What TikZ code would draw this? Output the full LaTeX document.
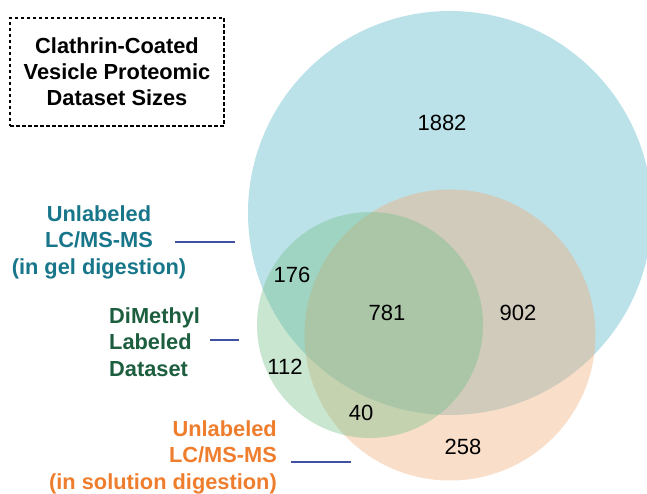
\documentclass[tikz,border=0pt]{standalone}
\usepackage{fontspec}
\setmainfont{Liberation Sans}
\definecolor{setblue}{RGB}{187,225,233}
\definecolor{setorange}{RGB}{240,172,120}
\definecolor{setgreen}{RGB}{117,192,137}
\definecolor{labteal}{RGB}{24,118,138}
\definecolor{labgreen}{RGB}{28,94,62}
\definecolor{laborange}{RGB}{238,125,45}
\definecolor{leader}{RGB}{63,81,160}
\tikzset{
  setdisk/.style={circle, draw=none, inner sep=0pt},
  count/.style={inner sep=0pt, font=\fontsize{22}{26}\selectfont},
  setlabel/.style={inner sep=0pt, font=\fontsize{21.8}{26.5}\selectfont\bfseries},
  leaderline/.style={draw=leader, line width=2.2pt},
}
\begin{document}
\begin{tikzpicture}[x=1pt, y=-1pt]
\useasboundingbox (0,0) rectangle (647,494);
\begin{scope}
\clip (0,0) rectangle (647,494);
% the three sets
\node[setdisk, fill=setblue, minimum size=404pt] (blueset) at (450,213) {};
\node[setdisk, fill=setorange, fill opacity=0.4, minimum size=291pt] (orangeset) at (450,335) {};
\node[setdisk, fill=setgreen, fill opacity=0.4, minimum size=226pt] (greenset) at (370,325) {};
\end{scope}

% title
\node[draw, dashed, dash pattern=on 3.5pt off 2.5pt, line width=1.4pt,
      minimum width=214pt, minimum height=108pt, inner sep=0pt,
      align=center, font=\fontsize{21.8}{26}\selectfont\bfseries] (title) at (117,72)
  {Clathrin-Coated\\Vesicle Proteomic\\Dataset Sizes};

% region counts
\node[count] (n1882) at (442,123) {1882};
\node[count] (n176) at (292,275) {176};
\node[count] (n781) at (387,313) {781};
\node[count] (n902) at (518,313) {902};
\node[count] (n112) at (285,367) {112};
\node[count] (n40) at (361,413) {40};
\node[count] (n258) at (463,447) {258};

% set labels
\node[setlabel, text=labteal, align=center] (labblue) at (99,242)
  {Unlabeled\\LC/MS-MS\\(in gel digestion)};
\node[setlabel, text=labgreen, align=left, anchor=west] (labgreen) at (109,342)
  {DiMethyl\\Labeled\\Dataset};
\node[setlabel, text=laborange, align=right, anchor=east] (laborange) at (277,457)
  {Unlabeled\hspace{6pt}\\LC/MS-MS\\(in solution digestion)};

% leader lines
\coordinate (bA) at (175,242);
\coordinate (bB) at (235,242);
\coordinate (gA) at (210,340);
\coordinate (gB) at (239,340);
\coordinate (oA) at (291,462);
\coordinate (oB) at (351,462);
\draw[leaderline] (bA) -- (bB);
\draw[leaderline] (gA) -- (gB);
\draw[leaderline] (oA) -- (oB);
\end{tikzpicture}
\end{document}
